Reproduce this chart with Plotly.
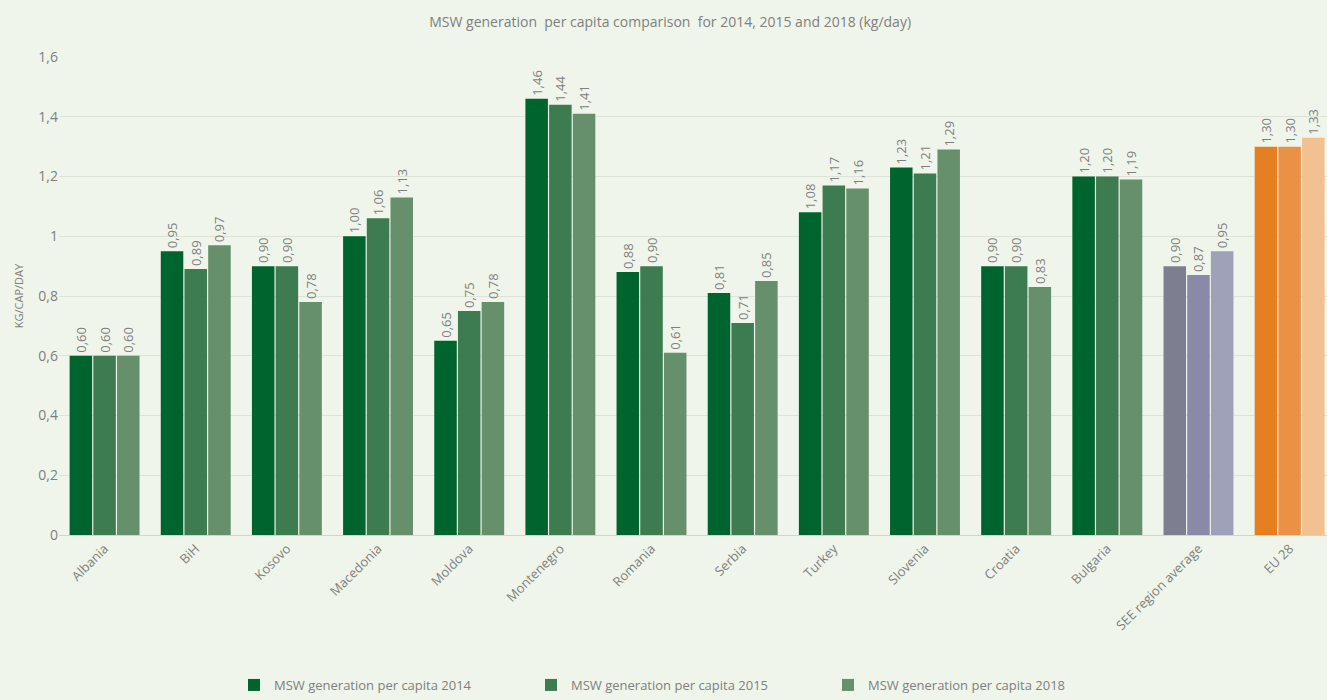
import plotly.graph_objects as go

categories = ["Albania", "BiH", "Kosovo", "Macedonia", "Moldova", "Montenegro", "Romania",
              "Serbia", "Turkey", "Slovenia", "Croatia", "Bulgaria", "SEE region average", "EU 28"]

msw_2014 = [0.60, 0.95, 0.90, 1.00, 0.65, 1.46, 0.88, 0.81, 1.08, 1.23, 0.90, 1.20, 0.90, 1.30]
msw_2015 = [0.60, 0.89, 0.90, 1.06, 0.75, 1.44, 0.90, 0.71, 1.17, 1.21, 0.90, 1.20, 0.87, 1.30]
msw_2018 = [0.60, 0.97, 0.78, 1.13, 0.78, 1.41, 0.61, 0.85, 1.16, 1.29, 0.83, 1.19, 0.95, 1.33]

series_names = ["MSW generation per capita 2014", "MSW generation per capita 2015",
                "MSW generation per capita 2018"]

# base green per year, with the regional average and EU groups shaded separately
greens = ["#00642f", "#3d7b50", "#66906b"]
see_cols = ["#7d7f90", "#8a8aa8", "#9fa1b8"]
eu_cols = ["#e67e22", "#eb9146", "#f2c190"]

TEXT = "#7f7f7f"

fig = go.Figure()
for i, (name, vals) in enumerate(zip(series_names, [msw_2014, msw_2015, msw_2018])):
    colors = [greens[i]] * (len(categories) - 2) + [see_cols[i], eu_cols[i]]
    fig.add_trace(go.Bar(
        x=categories, y=vals, name=name,
        marker=dict(color=colors, line=dict(width=0)),
        texttemplate="%{y:.2f}", textposition="outside", textangle=-90,
        textfont=dict(color=TEXT, size=13, family="Open Sans"),
        cliponaxis=False, constraintext="none",
    ))

fig.update_layout(
    width=1327, height=700,
    separators=",.",
    barmode="group", bargap=0.22, bargroupgap=0.05,
    paper_bgcolor="#eff5ea", plot_bgcolor="#eff5ea",
    margin=dict(l=59, r=0, t=57, b=163),
    font=dict(family="Open Sans", color=TEXT, size=12),
    title=dict(text="MSW generation  per capita comparison  for 2014, 2015 and 2018 (kg/day)",
               x=0.505, xanchor="center", y=0.968, yanchor="middle",
               font=dict(size=14, color=TEXT)),
    xaxis=dict(range=[-0.5, 13.41], tickangle=-45, tickfont=dict(size=13, color=TEXT),
               showline=True, linecolor="#d0d6cc", ticks=""),
    yaxis=dict(range=[0, 1.6], dtick=0.2, showgrid=True, gridcolor="#dde3d8",
               zeroline=False, tickfont=dict(size=14, color=TEXT),
               title=dict(text="KG/CAP/DAY", font=dict(size=11, color=TEXT), standoff=12)),
    legend=dict(orientation="h", x=0.138, xanchor="left", y=-0.315, yanchor="middle",
                font=dict(size=13, color=TEXT), itemwidth=30, traceorder="normal",
                entrywidth=252, entrywidthmode="pixels",
                bgcolor="rgba(0,0,0,0)"),
)

fig.write_html("out.html")
